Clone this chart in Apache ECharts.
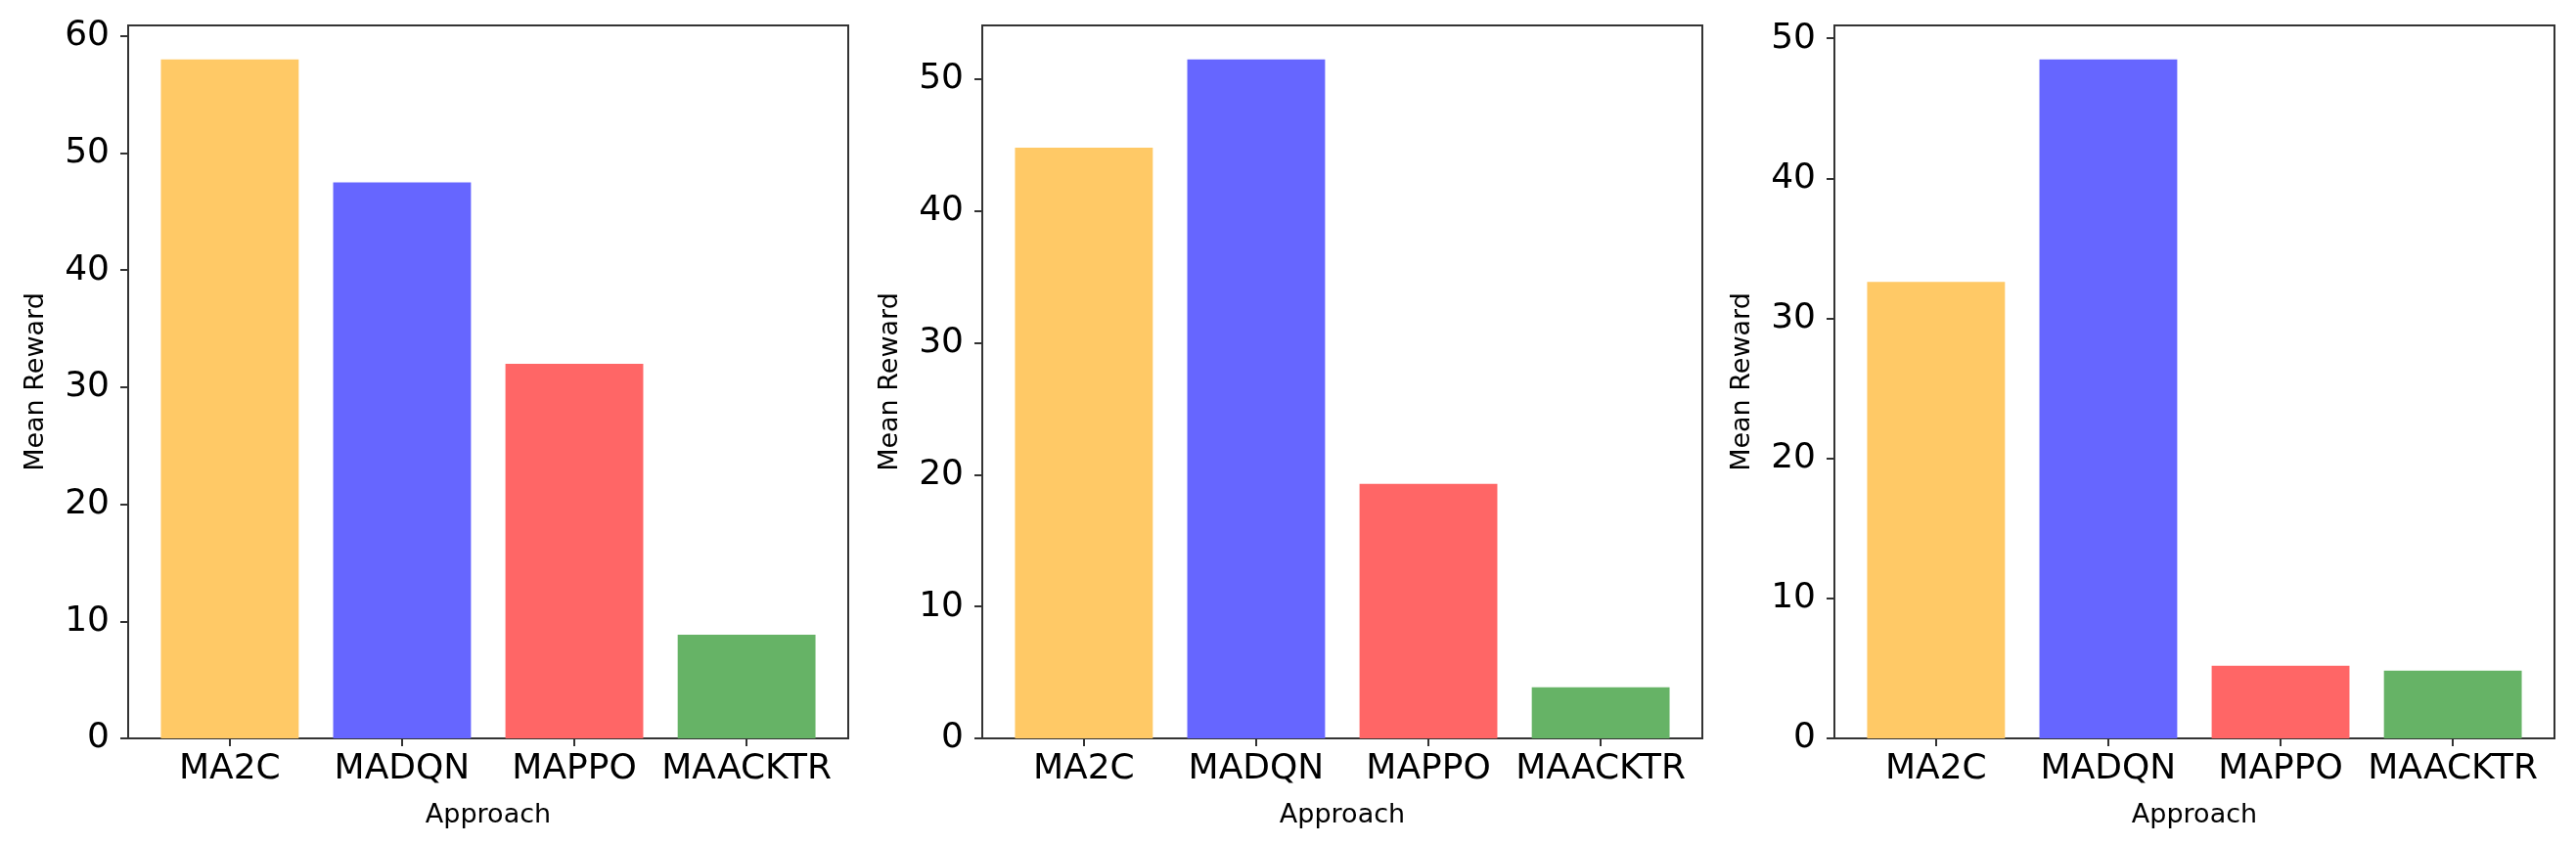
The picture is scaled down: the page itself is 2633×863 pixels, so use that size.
<!DOCTYPE html>
<html><head><meta charset="utf-8">
<script src="https://cdn.jsdelivr.net/npm/echarts@6/dist/echarts.min.js"></script>
<style>html,body{margin:0;padding:0;background:#fff}#c{width:2633px;height:863px}</style>
</head><body><div id="c"></div>
<script>
const categories = ['MA2C', 'MADQN', 'MAPPO', 'MAACKTR'];
const rewardsA = [58.0, 47.5, 32.0, 8.85];
const rewardsB = [44.8, 51.5, 19.3, 3.87];
const rewardsC = [32.6, 48.5, 5.18, 4.83];
const barColors = ['#FFC966', '#6666FF', '#FF6666', '#66B366'];
const yTicksA = [0, 10, 20, 30, 40, 50, 60];
const yTicksB = [0, 10, 20, 30, 40, 50];
const yTicksC = [0, 10, 20, 30, 40, 50];
const xName = 'Approach';
const yName = 'Mean Reward';

const panels = [
  { data: rewardsA, ticks: yTicksA, left: 131 },
  { data: rewardsB, ticks: yTicksB, left: 1004 },
  { data: rewardsC, ticks: yTicksC, left: 1875 }
];
const gridW = 736, gridTop = 26, gridH = 729;
const barFrac = 0.8;
const n = categories.length;
const xMin = -barFrac / 2 - 0.05 * (n - 1 + barFrac);
const xMax = (n - 1) + barFrac / 2 + 0.05 * (n - 1 + barFrac);
const barPx = gridW * barFrac / (xMax - xMin);
const font = 'DejaVu Sans';
const axisColor = '#333';
const catIdx = categories.map((c, i) => i);

const option = {
  animation: false,
  backgroundColor: '#fff',
  grid: panels.map(p => ({
    left: p.left, top: gridTop, width: gridW, height: gridH,
    show: true, borderColor: axisColor, borderWidth: 2, backgroundColor: 'transparent',
    containLabel: false
  })),
  xAxis: panels.map((p, k) => ({
    type: 'value', gridIndex: k, min: xMin, max: xMax,
    splitLine: { show: false },
    axisLine: { show: true, onZero: false, lineStyle: { color: axisColor, width: 2 } },
    axisTick: { show: true, customValues: catIdx, length: 8, lineStyle: { color: axisColor, width: 2 } },
    axisLabel: { customValues: catIdx, formatter: v => categories[Math.round(v)], fontFamily: font, fontSize: 36, color: '#000', margin: 14 },
    name: xName, nameLocation: 'middle', nameGap: 65,
    nameTextStyle: { fontFamily: font, fontSize: 27, color: '#000' }
  })),
  yAxis: panels.map((p, k) => ({
    type: 'value', gridIndex: k, min: 0, max: Math.max(...p.data) * 1.05,
    splitLine: { show: false },
    axisLine: { show: true, onZero: false, lineStyle: { color: axisColor, width: 2 } },
    axisTick: { show: true, customValues: p.ticks, length: 8, lineStyle: { color: axisColor, width: 2 } },
    axisLabel: { customValues: p.ticks, fontFamily: font, fontSize: 36, color: '#000', margin: 19 },
    name: yName, nameLocation: 'middle', nameRotate: 90, nameGap: 81,
    nameTextStyle: { fontFamily: font, fontSize: 27, color: '#000' }
  })),
  series: panels.map((p, k) => ({
    type: 'bar', xAxisIndex: k, yAxisIndex: k, barWidth: barPx,
    data: p.data.map((v, i) => ({ value: [i, v], itemStyle: { color: barColors[i] } }))
  }))
};
const chart = echarts.init(document.getElementById('c'), null, { renderer: 'canvas' });
chart.setOption(option);
</script></body></html>
